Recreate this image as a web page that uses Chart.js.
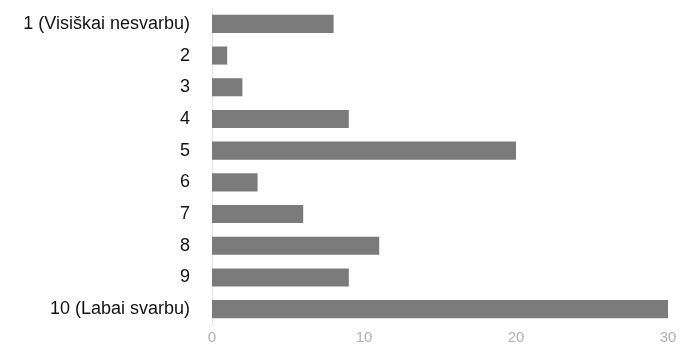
<!DOCTYPE html>
<html>
<head>
<meta charset="utf-8">
<script src="https://cdn.jsdelivr.net/npm/chart.js@4"></script>
<style>
  html, body { margin: 0; padding: 0; background: #fff; }
  #wrap { width: 682px; height: 350px; }
</style>
</head>
<body>
<div id="wrap"><canvas id="chart" width="682" height="350"></canvas></div>
<script>
const categories = ["1 (Visiškai nesvarbu)", "2", "3", "4", "5", "6", "7", "8", "9", "10 (Labai svarbu)"];
const answers = [8, 1, 2, 9, 20, 3, 6, 11, 9, 30];
const xTicks = [0, 10, 20, 30];

const ctx = document.getElementById("chart").getContext("2d");

new Chart(ctx, {
  type: "bar",
  data: {
    labels: categories,
    datasets: [{
      data: answers,
      backgroundColor: "#7b7b7b",
      borderWidth: 0,
      barPercentage: 0.57,
      categoryPercentage: 1
    }]
  },
  options: {
    indexAxis: "y",
    responsive: false,
    animation: false,
    layout: { padding: { top: 8, right: 14, left: 0, bottom: 0 } },
    plugins: { legend: { display: false }, tooltip: { enabled: false } },
    scales: {
      x: {
        min: 0,
        max: 30,
        afterBuildTicks: (scale) => { scale.ticks = xTicks.map(v => ({ value: v })); },
        afterFit: (scale) => { scale.height = 25; },
        grid: { display: false, drawTicks: false },
        border: { display: false },
        ticks: {
          color: "#b0b0b0",
          padding: 4,
          font: { family: "Arial, 'Liberation Sans', sans-serif", size: 15 }
        }
      },
      y: {
        afterFit: (scale) => {
          scale.width = 212;
          scale.paddingTop = 0;
          scale.paddingBottom = 0;
        },
        grid: { display: false, drawTicks: false },
        border: { display: true, color: "#e2e2e2", width: 1 },
        ticks: {
          color: "#111",
          padding: 22,
          font: { family: "Arial, 'Liberation Sans', sans-serif", size: 18 }
        }
      }
    }
  }
});
</script>
</body>
</html>
